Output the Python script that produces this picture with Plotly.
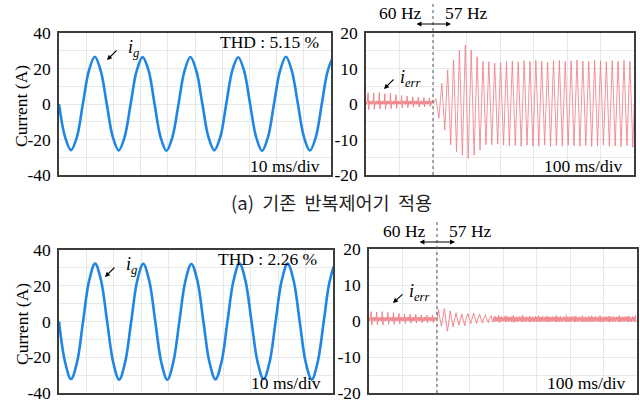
import plotly.graph_objects as go

# ---------------- data ----------------
# grid current i_g, sampled every 1/8 period (period ~17.57 ms), 10 ms/div
ig_dt_ms = 2.196
ig_a = [0.0, -18.4, -26.0, -18.6, 0.2, 18.7, 26.6, 18.5,
        -0.1, -18.5, -26.2, -18.4, 0.1, 18.6, 26.4, 18.8,
        0.0, -18.6, -26.3, -18.5, -0.2, 18.5, 26.5, 18.6,
        0.1, -18.4, -26.1, -18.7, 0.0, 18.7, 26.3, 18.5,
        -0.1, -18.6, -26.4, -18.5, 0.2, 18.6, 26.6, 18.4,
        0.0, -18.5, -26.2, -18.6, 0.1, 18.7, 26.4, 18.6]
ig_b = [0.0, -22.6, -32.2, -22.8, 0.1, 22.7, 32.4, 22.8,
        -0.1, -22.7, -32.5, -22.6, 0.0, 22.8, 32.3, 22.7,
        0.1, -22.8, -32.6, -22.7, -0.1, 22.6, 32.2, 22.8,
        0.0, -22.7, -32.4, -22.8, 0.1, 22.8, 32.5, 22.6,
        -0.1, -22.6, -32.3, -22.7, 0.0, 22.7, 32.4, 22.8,
        0.1, -22.8, -32.5, -22.6, 0.0, 22.7, 32.3, 22.7]

# error current i_err, 100 ms/div; 60 Hz section then 57 Hz after step at 200 ms
err_step_ms = 200
err_pre_dt_ms = 2.083
err_a_pre = [0.9, -0.1, 0.8, 3.2, -1.6, 0.9, 0.0, 0.8,
             -0.1, 0.9, 0.0, 3.1, -1.5, 0.8, -0.1, 0.9,
             0.0, 0.8, -0.1, 3.2, -1.4, 0.9, 0.0, 0.8,
             -0.1, 0.9, 0.0, 2.9, -1.5, 0.8, -0.1, 0.9,
             0.0, 0.8, -0.1, 3.0, -1.3, 0.9, 0.0, 0.8,
             -0.1, 0.9, 0.0, 2.6, -1.2, 0.8, -0.1, 0.9,
             0.0, 0.8, -0.1, 2.4, -1.1, 0.9, 0.0, 0.8,
             -0.1, 0.9, 0.0, 2.2, -1.0, 0.8, -0.1, 0.9,
             0.0, 0.8, -0.1, 2.0, -0.9, 0.9, 0.0, 0.8,
             -0.1, 0.9, 0.0, 1.9, -0.8, 0.8, -0.1, 0.9,
             0.0, 0.8, -0.1, 1.8, -0.8, 0.9, 0.0, 0.8,
             -0.1, 0.9, 0.0, 1.7, -0.7, 0.8, -0.1, 0.9, 0.2]
err_a_post_dt_ms = 8.772
err_a_post = [0.0, 1.5, -4.0, 5.8, -7.3, 9.6, -11.5, 12.4, -13.4, 15.2, -14.4,
              16.6, -15.3, 15.2, -14.4, 13.3, -13.0, 12.0, -11.5, 11.9, -11.5,
              11.5, -11.3, 11.8, -11.6, 12.0, -11.8, 12.1, -11.7, 11.9, -11.9,
              12.2, -11.6, 12.0, -11.8, 12.3, -11.9, 12.1, -11.6, 11.8, -12.0,
              12.2, -11.7, 12.3, -11.9, 12.0, -11.6, 12.2, -11.8, 12.4, -11.9,
              12.1, -11.7, 12.0, -12.0, 12.3, -11.8, 12.1, -11.6, 11.9, -11.9,
              12.2, -11.8, 12.0, -12.1, 12.3, -11.8, 12.0, -12.2, 11.9, -12.0]
err_b_pre = [1.1, 0.0, 1.0, 2.6, -1.1, 1.1, 0.1, 1.0,
             0.0, 1.1, 0.1, 2.5, -1.0, 1.0, 0.0, 1.1,
             0.1, 1.0, 0.0, 2.6, -1.1, 1.1, 0.1, 1.0,
             0.0, 1.1, 0.1, 2.4, -0.9, 1.0, 0.0, 1.1,
             0.1, 1.0, 0.0, 2.3, -0.9, 1.1, 0.1, 1.0,
             0.0, 1.1, 0.1, 2.1, -0.8, 1.0, 0.0, 1.1,
             0.1, 1.0, 0.0, 2.0, -0.7, 1.1, 0.1, 1.0,
             0.0, 1.1, 0.1, 1.9, -0.6, 1.0, 0.0, 1.1,
             0.1, 1.0, 0.0, 1.8, -0.6, 1.1, 0.1, 1.0,
             0.0, 1.1, 0.1, 1.7, -0.5, 1.0, 0.0, 1.1,
             0.1, 1.0, 0.0, 1.6, -0.5, 1.1, 0.1, 1.0,
             0.0, 1.1, 0.1, 1.6, -0.4, 1.0, 0.0, 1.1, 0.5, 0.6]
err_b_step_ms = 203
err_b_post_dt_ms = 2.193
err_b_post = [0.4, 2.0, 3.3, 1.8, 0.6, -0.6, -1.5, -0.2, 1.0, 2.4, 3.4, 1.9,
              0.4, -1.6, -2.8, -1.8, -0.6, 1.2, 2.8, 1.6, 0.3, -0.8, -1.6, -0.4,
              0.8, 1.9, 2.3, 1.1, 0.2, -0.6, -1.2, 0.0, 0.6, 1.5, 1.9, 0.8,
              0.0, -0.7, -1.3, 0.1, 0.7, 1.6, 2.1, 1.4, 0.6, -0.1, -0.8, 0.2,
              0.9, 1.8, 2.2, 1.3, 0.5, -0.2, -0.7, 0.3, 1.0, 1.7, 2.0, 1.1,
              0.3, -0.1, -0.6, 0.4, 0.8, 1.5, 1.8, 0.9, 0.2, -0.2, -0.5, 0.5,
              0.9, 1.4, 1.5, 0.4, -0.3, 0.6, 1.3, -0.2, 1.2, 0.0, 1.1, -0.3,
              1.6, -0.4, 1.1, -0.1, 1.2, -0.2, 1.0, 0.0, 1.2, -0.3, 1.5, -0.1,
              1.1, -0.2, 1.2, 0.0, 1.0, -0.2, 1.3, -0.1, 1.5, -0.4, 1.1, -0.1,
              1.2, -0.2, 1.0, -0.1, 1.3, 0.0, 1.1, -0.3, 1.6, -0.2, 1.2, -0.1,
              1.0, -0.2, 1.2, 0.0, 1.1, -0.2, 1.4, -0.3, 1.1, -0.1, 1.2, -0.2,
              1.0, -0.1, 1.3, -0.2, 1.1, -0.1, 1.5, -0.3, 1.2, -0.1, 1.1, -0.2,
              1.3, 0.0, 1.0, -0.2, 1.2, -0.1, 1.4, -0.3, 1.1, -0.1, 1.2, -0.2,
              1.0, 0.0, 1.3, -0.1, 1.1, -0.2, 1.5, -0.3, 1.2, -0.1, 1.1, -0.2,
              1.3, -0.1, 1.0, -0.2, 1.2, 0.0, 1.1, -0.2, 1.6, -0.3, 1.1, -0.1,
              1.2, -0.2, 1.0, -0.1, 1.3, 0.0, 1.1, -0.3, 1.4, -0.2, 1.2, -0.1,
              1.0, -0.2, 1.2, 0.0, 1.1, -0.2, 1.5, -0.3, 1.1, -0.1, 1.2, -0.2,
              1.0, -0.1, 1.3, -0.2, 1.1, -0.1, 1.4, -0.3, 1.2, -0.1, 1.1, -0.2,
              1.3, 0.0, 1.0, -0.2, 1.2, -0.1, 1.5, -0.3, 1.1, -0.1, 1.2, -0.2,
              1.0, 0.0, 1.3, -0.1, 1.1, -0.2, 1.4, -0.3, 1.2, -0.1, 1.1, -0.2,
              1.3, -0.1, 1.0, -0.2, 1.2, 0.0, 1.1, -0.2, 1.5, -0.3, 1.1, -0.1,
              1.2, -0.2, 1.0, -0.1, 1.3, 0.0, 1.1, -0.3, 1.4, -0.2, 1.2, -0.1,
              1.0, -0.2, 1.2, 0.0, 1.1, -0.2, 1.5, -0.3]

left_tickvals = [-40, -30, -20, -10, 0, 10, 20, 30, 40]
left_ticktext = ["-40", "", "-20", "", "0", "", "20", "", "40"]
right_tickvals = [-20, -15, -10, -5, 0, 5, 10, 15, 20]
right_ticktext = ["-20", "", "-10", "", "0", "", "10", "", "20"]

thd_texts = ["THD : 5.15 %", "THD : 2.26 %"]
div_left = "10 ms/div"
div_right = "100 ms/div"
freq_before = "60 Hz"
freq_after = "57 Hz"
caption = "(a)  기존  반복제어기  적용"
ylabel = "Current (A)"

# ---------------- figure ----------------
W, H = 640, 400
def X(p): return p / W
def Y(p): return 1 - p / H

BLUE = "#1f86e6"
RED = "#f07a82"
SERIF = "Liberation Serif"

fig = go.Figure()
fig.add_trace(go.Scatter(y=ig_a, x0=0, dx=ig_dt_ms, mode="lines",
                         line=dict(color=BLUE, width=2.6, shape="spline"),
                         xaxis="x", yaxis="y", showlegend=False))
fig.add_trace(go.Scatter(y=err_a_pre, x0=0, dx=err_pre_dt_ms, mode="lines",
                         line=dict(color=RED, width=0.9),
                         xaxis="x2", yaxis="y2", showlegend=False))
fig.add_trace(go.Scatter(y=err_a_post, x0=err_step_ms, dx=err_a_post_dt_ms, mode="lines",
                         line=dict(color=RED, width=0.8),
                         xaxis="x2", yaxis="y2", showlegend=False))
fig.add_trace(go.Scatter(y=ig_b, x0=0, dx=ig_dt_ms, mode="lines",
                         line=dict(color=BLUE, width=2.6, shape="spline"),
                         xaxis="x3", yaxis="y3", showlegend=False))
fig.add_trace(go.Scatter(y=err_b_pre, x0=0, dx=err_pre_dt_ms, mode="lines",
                         line=dict(color=RED, width=0.9),
                         xaxis="x4", yaxis="y4", showlegend=False))
fig.add_trace(go.Scatter(y=err_b_post, x0=err_b_step_ms, dx=err_b_post_dt_ms, mode="lines",
                         line=dict(color=RED, width=0.9),
                         xaxis="x4", yaxis="y4", showlegend=False))

GRID = "#e8e8e8"
FRAME = "#3c3c3c"
tickfont = dict(family=SERIF, size=17.5, color="black")

def xax(dom, rng, dt, anchor):
    return dict(domain=dom, range=rng, dtick=dt, tick0=0, showticklabels=False,
                showgrid=True, gridcolor=GRID, gridwidth=1, zeroline=False,
                showline=True, linecolor=FRAME, linewidth=1.5, mirror=True,
                ticks="", anchor=anchor, fixedrange=True, automargin=False)

def yax(dom, rng, tv, tt, anchor):
    return dict(domain=dom, range=rng, tickmode="array", tickvals=tv, ticktext=tt,
                showgrid=True, gridcolor=GRID, gridwidth=1, zeroline=False,
                showline=True, linecolor=FRAME, linewidth=1.5, mirror=True,
                ticks="outside", ticklen=3, tickcolor="rgba(0,0,0,0)",
                ticklabeloverflow="allow",
                tickfont=tickfont, anchor=anchor, fixedrange=True, automargin=False)

fig.update_layout(
    width=W, height=H, margin=dict(l=0, r=0, t=0, b=0, autoexpand=False),
    paper_bgcolor="white", plot_bgcolor="white",
    xaxis=xax([X(59), X(331)], [0, 100], 10, "y"),
    yaxis=yax([Y(175), Y(33)], [-40, 40], left_tickvals, left_ticktext, "x"),
    xaxis2=xax([X(366), X(634)], [0, 800], 100, "y2"),
    yaxis2=yax([Y(175), Y(33)], [-20, 20], right_tickvals, right_ticktext, "x2"),
    xaxis3=xax([X(59), X(333)], [0, 100], 10, "y3"),
    yaxis3=yax([Y(393), Y(250)], [-40, 40], left_tickvals, left_ticktext, "x3"),
    xaxis4=xax([X(369), X(637)], [0, 800], 100, "y4"),
    yaxis4=yax([Y(393), Y(249)], [-20, 20], right_tickvals, right_ticktext, "x4"),
)

# dashed frequency-step markers
fig.add_shape(type="line", xref="x2", yref="paper", x0=err_step_ms, x1=err_step_ms,
              y0=Y(175), y1=Y(2), line=dict(color="#555555", width=1, dash="dot"))
fig.add_shape(type="line", xref="x4", yref="paper", x0=err_b_step_ms, x1=err_b_step_ms,
              y0=Y(393), y1=Y(222), line=dict(color="#555555", width=1, dash="dot"))

ann = []
def txt(x, y, s, size=17.5, xanchor="center", family=SERIF, color="black", angle=0):
    ann.append(dict(x=X(x), y=Y(y), xref="paper", yref="paper", text=s, showarrow=False,
                    xanchor=xanchor, yanchor="middle", textangle=angle,
                    font=dict(family=family, size=size, color=color)))

def arrow(hx, hy, tx, ty, both=False):
    ann.append(dict(x=X(hx), y=Y(hy), xref="paper", yref="paper", text="",
                    showarrow=True, ax=tx - hx, ay=ty - hy, axref="pixel", ayref="pixel",
                    arrowhead=2, arrowsize=0.9, arrowwidth=1.1, arrowcolor="black",
                    arrowside="end+start" if both else "end", startarrowhead=2,
                    startarrowsize=0.9, standoff=0, startstandoff=0))

# top-left
txt(321, 42, thd_texts[0], xanchor="right")
txt(322, 166, div_left, xanchor="right")
txt(126, 48, "<i>i</i><sub><i>g</i></sub>", size=18, xanchor="left")
arrow(107, 60, 118, 49)
txt(21, 106, ylabel, angle=-90)
# top-right
txt(625, 166, div_right, xanchor="right")
txt(400, 13, freq_before)
txt(466, 13, freq_after)
arrow(451, 24, 415, 24, both=True)
txt(398, 78, "<i>i</i><sub><i>err</i></sub>", size=18, xanchor="left")
arrow(384, 89, 395, 78)
# caption
txt(331, 202, caption, size=18.5, family="Noto Sans CJK KR", color="#222222")
# bottom-left
txt(319, 259, thd_texts[1], xanchor="right")
txt(323, 383, div_left, xanchor="right")
txt(124, 265, "<i>i</i><sub><i>g</i></sub>", size=18, xanchor="left")
arrow(105, 277, 116, 266)
txt(22, 324, ylabel, angle=-90)
# bottom-right
txt(628, 383, div_right, xanchor="right")
txt(404, 231, freq_before)
txt(470, 231, freq_after)
arrow(455, 242, 418, 242, both=True)
txt(407, 292, "<i>i</i><sub><i>err</i></sub>", size=18, xanchor="left")
arrow(393, 303, 404, 293)

fig.update_layout(annotations=ann)
# the page body has a default 8 px margin; remove it so the 640x400 figure fills the window
fig.write_html("out.html", config={"displayModeBar": False},
               post_script="document.body.style.margin='0';")
